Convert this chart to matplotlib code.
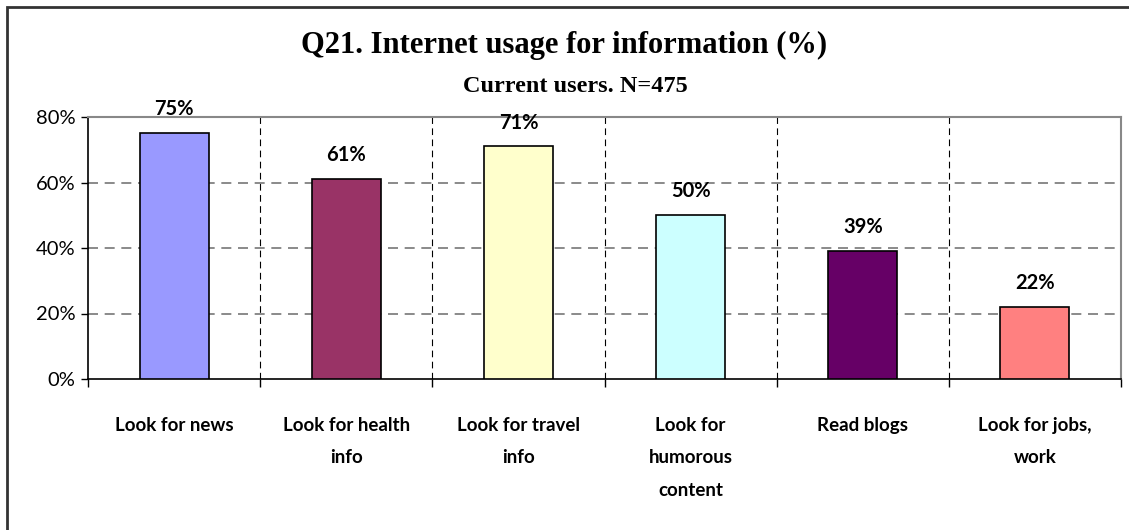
import matplotlib.pyplot as plt
from matplotlib.patches import Rectangle
import numpy as np

# data
categories = ['Look for news', 'Look for health\ninfo', 'Look for travel\ninfo',
              'Look for\nhumorous\ncontent', 'Read blogs', 'Look for jobs,\nwork']
values = [75, 61, 71, 50, 39, 22]
bar_colors = ['#9999FF', '#993366', '#FFFFCC', '#CCFFFF', '#660066', '#FF8080']
y_ticks = [0, 20, 40, 60, 80]

W, H = 1129, 530
fig = plt.figure(figsize=(W / 100, H / 100), dpi=100)
ax = fig.add_axes([88 / W, 151 / H, 1033 / W, 262 / H])

x = np.arange(len(categories))
ax.bar(x, values, width=0.4, color=bar_colors, edgecolor='black', linewidth=1.2, zorder=3)
ax.set_xlim(-0.5, len(categories) - 0.5)
ax.set_ylim(0, 80)

# data labels
for xi, v in zip(x, values):
    ax.annotate(f'{v}%', (xi, v), xytext=(0, 10), textcoords='offset points',
                ha='center', va='bottom', fontsize=14.5, fontweight='bold',
                family='Lato', zorder=4)

# grid
for yv in y_ticks[1:-1]:
    ax.axhline(yv, color='#777777', linestyle=(0, (6, 4)), linewidth=1.2, zorder=1)
bounds = np.arange(len(categories) + 1) - 0.5
for b in bounds[1:-1]:
    ax.axvline(b, color='black', linestyle=(0, (6, 4)), linewidth=0.8, zorder=1)

ax.set_yticks(y_ticks)
ax.set_yticklabels([f'{t}%' for t in y_ticks], family='Lato', fontsize=14.5)
ax.tick_params(axis='y', direction='out', length=5, width=1, pad=4)

# category ticks at boundaries, labels centred
ax.set_xticks(bounds)
ax.set_xticklabels([])
ax.tick_params(axis='x', direction='out', length=6, width=1)
for xi, lab in zip(x, categories):
    ax.text(xi, -0.145, lab, transform=ax.get_xaxis_transform(), ha='center', va='top',
            fontsize=13.5, fontweight='bold', family='Lato', linespacing=2.1)

ax.spines['left'].set_color('black')
ax.spines['bottom'].set_color('black')
ax.spines['left'].set_linewidth(1.2)
ax.spines['bottom'].set_linewidth(1.2)
ax.spines['top'].set_color('#888888')
ax.spines['right'].set_color('#888888')
ax.spines['top'].set_linewidth(1.5)
ax.spines['right'].set_linewidth(1.5)

fig.text(564 / W, 1 - 45 / H, 'Q21. Internet usage for information (%)', ha='center', va='center',
         fontsize=22, fontweight='bold', family='Liberation Serif')
fig.text(575 / W, 1 - 87 / H, 'Current users. N=475', ha='center', va='center',
         fontsize=17.5, fontweight='bold', family='Liberation Serif')

# outer chart border
fig.patches.append(Rectangle((7 / W, -0.1), 1.2, 1 - 7 / H + 0.1, transform=fig.transFigure,
                             fill=False, edgecolor='#333333', linewidth=2))

fig.savefig('out.png', dpi=100)
